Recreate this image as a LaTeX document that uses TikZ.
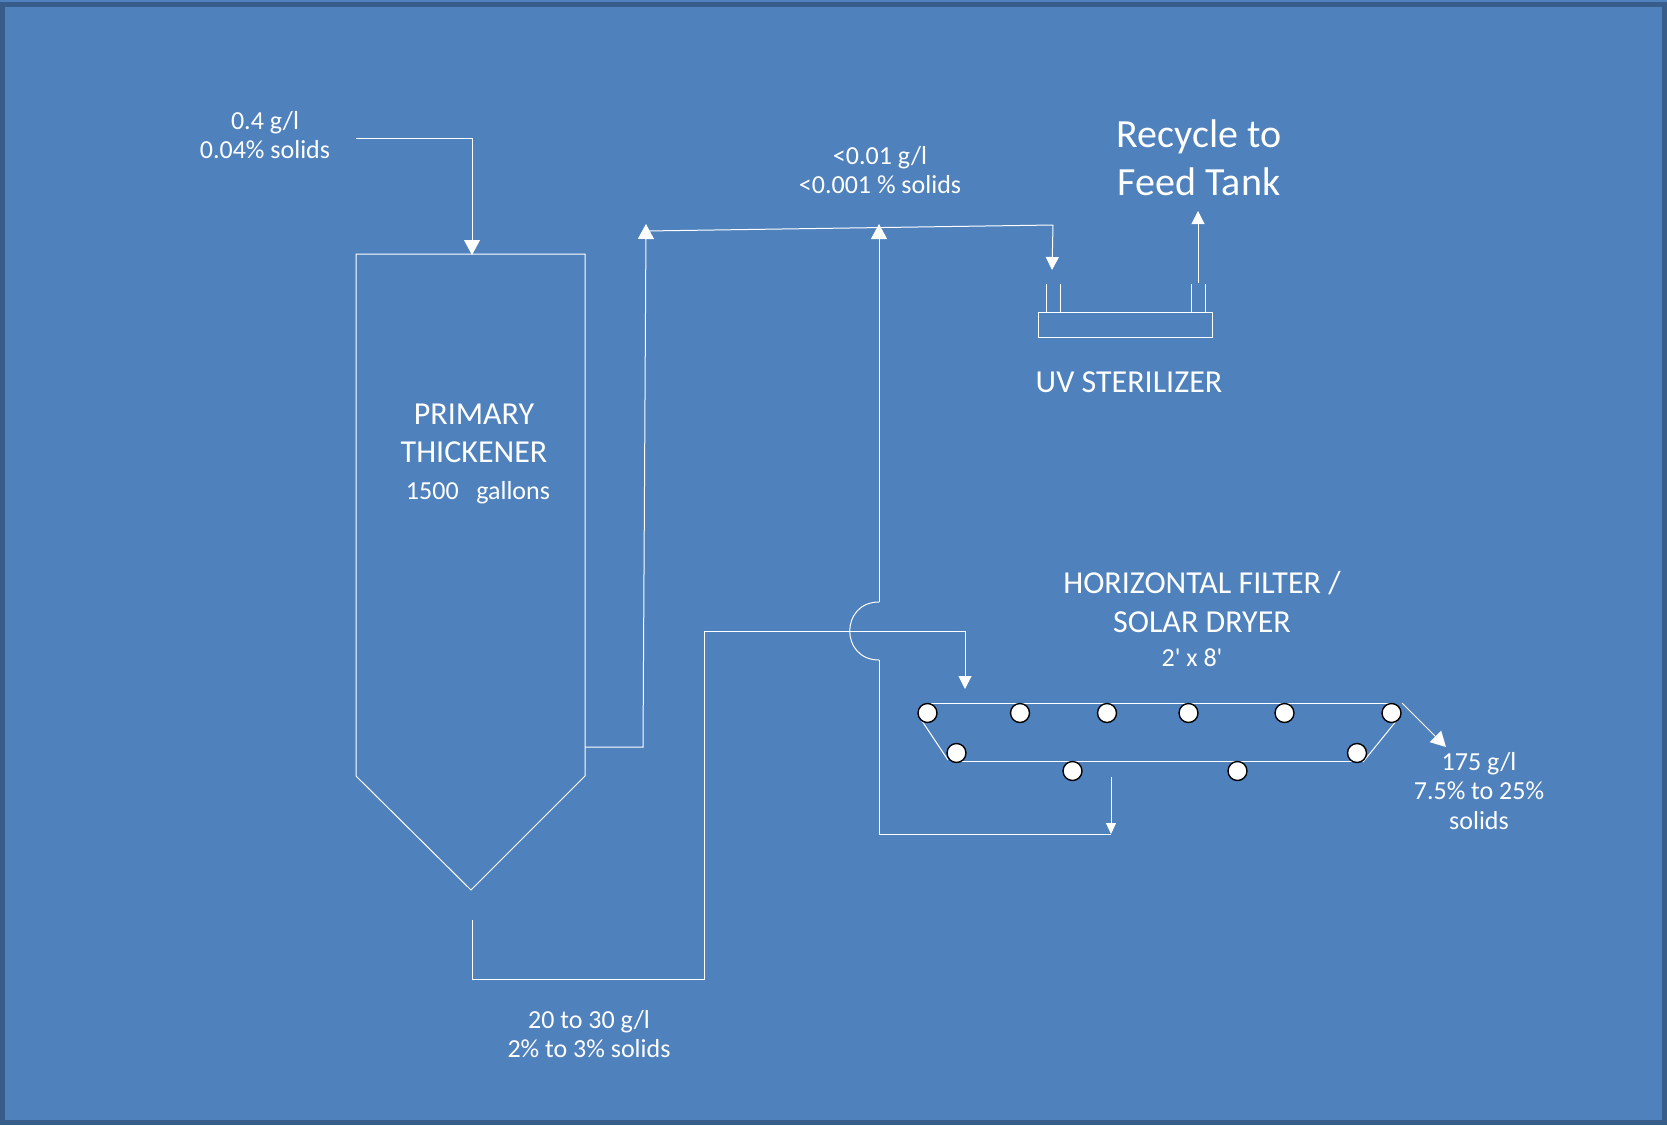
\documentclass[tikz,border=0pt]{standalone}
\usepackage{fontspec}
\setmainfont{Carlito}
\usetikzlibrary{
  arrows.meta,
  positioning
}
\definecolor{panel}{HTML}{4F81BD}
\definecolor{panelborder}{HTML}{385D8A}
\tikzset{
  pipe/.style={
    draw=white,
    line width=1pt
  },
  bigflow/.style={
    pipe,
    -{Triangle[length=15pt,width=16pt]}
  },
  smallflow/.style={
    pipe,
    -{Triangle[length=13pt,width=13pt]}
  },
  dropflow/.style={
    pipe,
    -{Triangle[length=11pt,width=10pt]}
  },
  vessel/.style={
    draw=white,
    line width=1pt
  },
  flowlabel/.style={
    text=white,
    align=center,
    inner sep=0pt,
    font=\fontsize{26}{29.5}\selectfont
  },
  unitlabel/.style={
    text=white,
    align=center,
    inner sep=0pt,
    font=\fontsize{32}{38.5}\selectfont
  },
  recyclelabel/.style={
    text=white,
    align=center,
    inner sep=0pt,
    font=\fontsize{40}{48}\selectfont
  },
  roller/.style={
    circle,
    draw=black,
    fill=white,
    line width=1.4pt,
    minimum size=19pt,
    inner sep=0pt
  }
}
\begin{document}
\begin{tikzpicture}[x=1pt,y=-1pt]
  \useasboundingbox (0,0) rectangle (1667,1125);
  \fill[panel] (0,0) rectangle (1667,1125);
  \draw[panelborder, line width=5pt] (2.5,4) rectangle (1664.5,1122.5);

  \node[flowlabel] (infeed) at (265,135) {0.4 g/l\\0.04\% solids};
  \node[flowlabel] (clearflow) at (880,170) {<0.01 g/l\\<0.001 \% solids};
  \node[recyclelabel] (recycle) at (1199,158) {Recycle to\\Feed Tank};
  \node[unitlabel] (uvlabel) at (1129,382) {UV STERILIZER};
  \node[unitlabel] (thicklabel) at (474,433.5) {PRIMARY\\THICKENER};
  \node[flowlabel] (gallons) at (478,493) {1500\ \ \ gallons};
  \node[flowlabel] (underflow) at (589,1034) {20 to 30 g/l\\2\% to 3\% solids};
  \node[unitlabel] (filterlabel) at (1202,602) {HORIZONTAL FILTER /\\SOLAR DRYER};
  \node[flowlabel] (filtersize) at (1192,658) {2\textquotesingle{} x 8\textquotesingle};
  \node[flowlabel] (cake) at (1479,791) {175 g/l\\7.5\% to 25\%\\solids};

  \coordinate (thicktl) at (356,254);
  \coordinate (thicktr) at (585,254);
  \coordinate (thickbr) at (585,776);
  \coordinate (thicktip) at (471,890);
  \coordinate (thickbl) at (356,776);
  \draw[vessel] (thicktl) -- (thicktr) -- (thickbr) -- (thicktip) -- (thickbl) -- cycle;

  \coordinate (feedstart) at (356,138);
  \coordinate (feedin) at (472,255);
  \draw[bigflow] (feedstart) -| (feedin);

  \coordinate (overstart) at (585,747);
  \coordinate (overbend) at (643,747);
  \coordinate (overtip) at (646,224);
  \draw[bigflow] (overstart) -- (overbend) -- (overtip);

  \coordinate (linestart) at (646,231);
  \coordinate (linebend) at (1053,225);
  \coordinate (uvtip) at (1052,270);
  \draw[pipe] (linestart) -- (linebend);
  \draw[smallflow] (linebend) -- (uvtip);

  \node[vessel, minimum width=174pt, minimum height=25pt, inner sep=0pt] (uvbox) at (1125,324.5) {};
  \coordinate (stubaa) at (1046,284);
  \coordinate (stubab) at (1060,284);
  \coordinate (stubba) at (1191,284);
  \coordinate (stubbb) at (1205,284);
  \draw[pipe] (stubaa) -- (stubaa |- uvbox.north);
  \draw[pipe] (stubab) -- (stubab |- uvbox.north);
  \draw[pipe] (stubba) -- (stubba |- uvbox.north);
  \draw[pipe] (stubbb) -- (stubbb |- uvbox.north);
  \coordinate (recyclestart) at (1198,283);
  \coordinate (recycletip) at (1198,211);
  \draw[smallflow] (recyclestart) -- (recycletip);

  \coordinate (slurrystart) at (472,920);
  \coordinate (slurrybot) at (472,979);
  \coordinate (slurryup) at (704,979);
  \coordinate (slurrytop) at (704,631);
  \coordinate (slurryright) at (965,631);
  \coordinate (slurrytip) at (965,689);
  \draw[pipe] (slurrystart) -- (slurrybot) -- (slurryup) -- (slurrytop) -- (slurryright);
  \draw[smallflow] (slurryright) -- (slurrytip);

  \coordinate (filtratetip) at (879,224);
  \coordinate (jumptop) at (879,602);
  \coordinate (jumpbot) at (879,660);
  \coordinate (filtratebot) at (879,834);
  \coordinate (filtrateend) at (1111,834);
  \coordinate (dropstart) at (1111,777);
  \draw[bigflow] (jumptop) -- (filtratetip);
  \draw[pipe] (jumptop) .. controls (840,602) and (840,660) .. (jumpbot);
  \draw[pipe] (jumpbot) -- (filtratebot) -- (filtrateend);
  \draw[dropflow] (dropstart) -- (filtrateend);

  \coordinate (beltta) at (931,703.5);
  \coordinate (belttb) at (1392,703.5);
  \coordinate (beltba) at (956,761.5);
  \coordinate (beltbb) at (1360,761.5);
  \draw[pipe] (beltta) -- (belttb);
  \draw[pipe] (beltba) -- (beltbb);
  \coordinate (slantla) at (920,718);
  \coordinate (slantlb) at (948,760);
  \coordinate (slantra) at (1397,720);
  \coordinate (slantrb) at (1363,762);
  \draw[pipe] (slantla) -- (slantlb);
  \draw[pipe] (slantra) -- (slantrb);

  \node[roller] (rollera) at (927.5,713) {};
  \node[roller] (rollerb) at (1020,713) {};
  \node[roller] (rollerc) at (1107,713) {};
  \node[roller] (rollerd) at (1188.5,713) {};
  \node[roller] (rollere) at (1284.5,713) {};
  \node[roller] (rollerf) at (1391.5,713) {};
  \node[roller] (rollerg) at (956.5,753) {};
  \node[roller] (rollerh) at (1357,753) {};
  \node[roller] (rolleri) at (1072.5,771) {};
  \node[roller] (rollerj) at (1237.5,771) {};

  \coordinate (cakestart) at (1402,703);
  \coordinate (caketip) at (1446,747);
  \draw[bigflow] (cakestart) -- (caketip);
\end{tikzpicture}
\end{document}
